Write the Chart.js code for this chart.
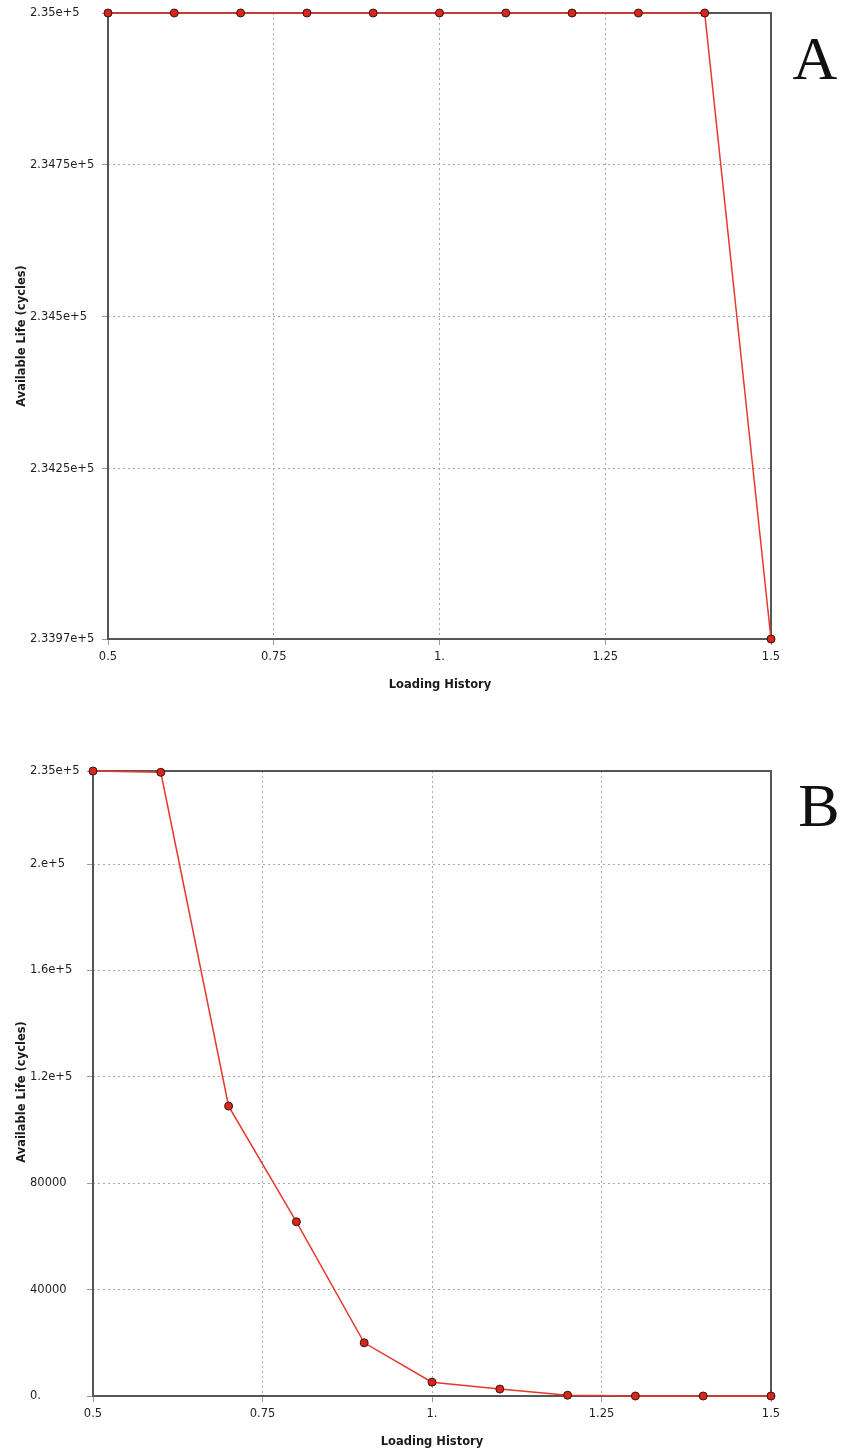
<!DOCTYPE html>
<html>
<head>
  <title>Available Life vs Loading History</title>
  <script src="https://cdn.jsdelivr.net/npm/chart.js"></script>
  <style>
    body { margin: 0; background: #fff; }
    .page { position: relative; width: 841px; height: 1451px; overflow: hidden; }
    .panel { position: absolute; left: 0; }
    .ytitle, .xtitle { position: absolute; font: bold 11.5px "DejaVu Sans", sans-serif; color: #1a1a1a; white-space: nowrap; }
    .ytitle { transform: translate(-50%, -50%) rotate(-90deg); }
    .xtitle { transform: translate(-50%, -50%); }
    .letter { position: absolute; font: 62px "Liberation Serif", "DejaVu Serif", serif; color: #111; transform: translateX(-50%); line-height: 1; }
  </style>
</head>
<body>
  <div class="page">
    <div class="panel" style="top:0"><canvas id="chartA" width="841" height="700"></canvas></div>
    <div class="panel" style="top:700px"><canvas id="chartB" width="841" height="751"></canvas></div>

    <div class="ytitle" style="left:21px; top:336px">Available Life (cycles)</div>
    <div class="xtitle" style="left:440px; top:684px">Loading History</div>
    <div class="letter" style="left:815px; top:27px">A</div>

    <div class="ytitle" style="left:21px; top:1092px">Available Life (cycles)</div>
    <div class="xtitle" style="left:432px; top:1441px">Loading History</div>
    <div class="letter" style="left:819px; top:774px">B</div>
  </div>

  <script>
    // Data
    const loadingHistory = [0.5, 0.6, 0.7, 0.8, 0.9, 1.0, 1.1, 1.2, 1.3, 1.4, 1.5];
    const lifeA = [235000, 235000, 235000, 235000, 235000, 235000, 235000, 235000, 235000, 235000, 233970];
    const lifeB = [235000, 234500, 109000, 65500, 20000, 5200, 2600, 300, 0, 0, 0];

    const xTicks = [0.5, 0.75, 1.0, 1.25, 1.5];
    const xTickLabels = ['0.5', '0.75', '1.', '1.25', '1.5'];

    const yTicksA = [233970, 234250, 234500, 234750, 235000];
    const yTickLabelsA = ['2.3397e+5', '2.3425e+5', '2.345e+5', '2.3475e+5', '2.35e+5'];

    const yTicksB = [0, 40000, 80000, 120000, 160000, 200000, 235000];
    const yTickLabelsB = ['0.', '40000', '80000', '1.2e+5', '1.6e+5', '2.e+5', '2.35e+5'];

    const tickFont = { family: 'DejaVu Sans', size: 11.5 };

    // box around the plot area, under the line
    const frame = {
      id: 'frame',
      beforeDatasetsDraw(chart) {
        const a = chart.chartArea;
        const ctx = chart.ctx;
        ctx.save();
        ctx.strokeStyle = '#555';
        ctx.lineWidth = 2;
        ctx.strokeRect(a.left, a.top, a.right - a.left, a.bottom - a.top);
        ctx.restore();
      }
    };

    function makeChart(id, values, yTicks, yLabels, pad, axisWidth) {
      const grid = {
        color: '#a8a8a8',
        lineWidth: 1,
        tickLength: 6,
        tickColor: '#999',
        tickBorderDash: []
      };
      const border = { display: false, dash: [2, 3] };
      new Chart(document.getElementById(id), {
        type: 'line',
        data: {
          datasets: [{
            data: loadingHistory.map((x, i) => ({ x: x, y: values[i] })),
            borderColor: '#e8372c',
            borderWidth: 1.5,
            pointRadius: 4,
            pointBackgroundColor: '#d9261c',
            pointBorderColor: '#3a1410',
            pointBorderWidth: 1,
            tension: 0,
            clip: false
          }]
        },
        options: {
          responsive: false,
          animation: false,
          layout: { padding: pad },
          plugins: { legend: { display: false }, tooltip: { enabled: false } },
          scales: {
            x: {
              type: 'linear',
              min: 0.5,
              max: 1.5,
              grid: grid,
              border: border,
              afterBuildTicks: s => { s.ticks = xTicks.map(v => ({ value: v })); },
              afterFit: s => { s.height = 30; },
              ticks: {
                font: tickFont,
                color: '#1f1f1f',
                padding: 5,
                maxRotation: 0,
                callback: (v, i) => xTickLabels[i]
              }
            },
            y: {
              min: yTicks[0],
              max: yTicks[yTicks.length - 1],
              grid: grid,
              border: border,
              afterBuildTicks: s => { s.ticks = yTicks.map(v => ({ value: v })); },
              afterFit: s => { s.width = axisWidth; },
              ticks: {
                font: tickFont,
                color: '#1f1f1f',
                crossAlign: 'far',
                callback: (v, i) => yLabels[i]
              }
            }
          }
        },
        plugins: [frame]
      });
    }

    makeChart('chartA', lifeA, yTicksA, yTickLabelsA, { left: 30, top: 13, right: 70, bottom: 31 }, 78);
    makeChart('chartB', lifeB, yTicksB, yTickLabelsB, { left: 30, top: 71, right: 70, bottom: 25 }, 63);
  </script>
</body>
</html>
